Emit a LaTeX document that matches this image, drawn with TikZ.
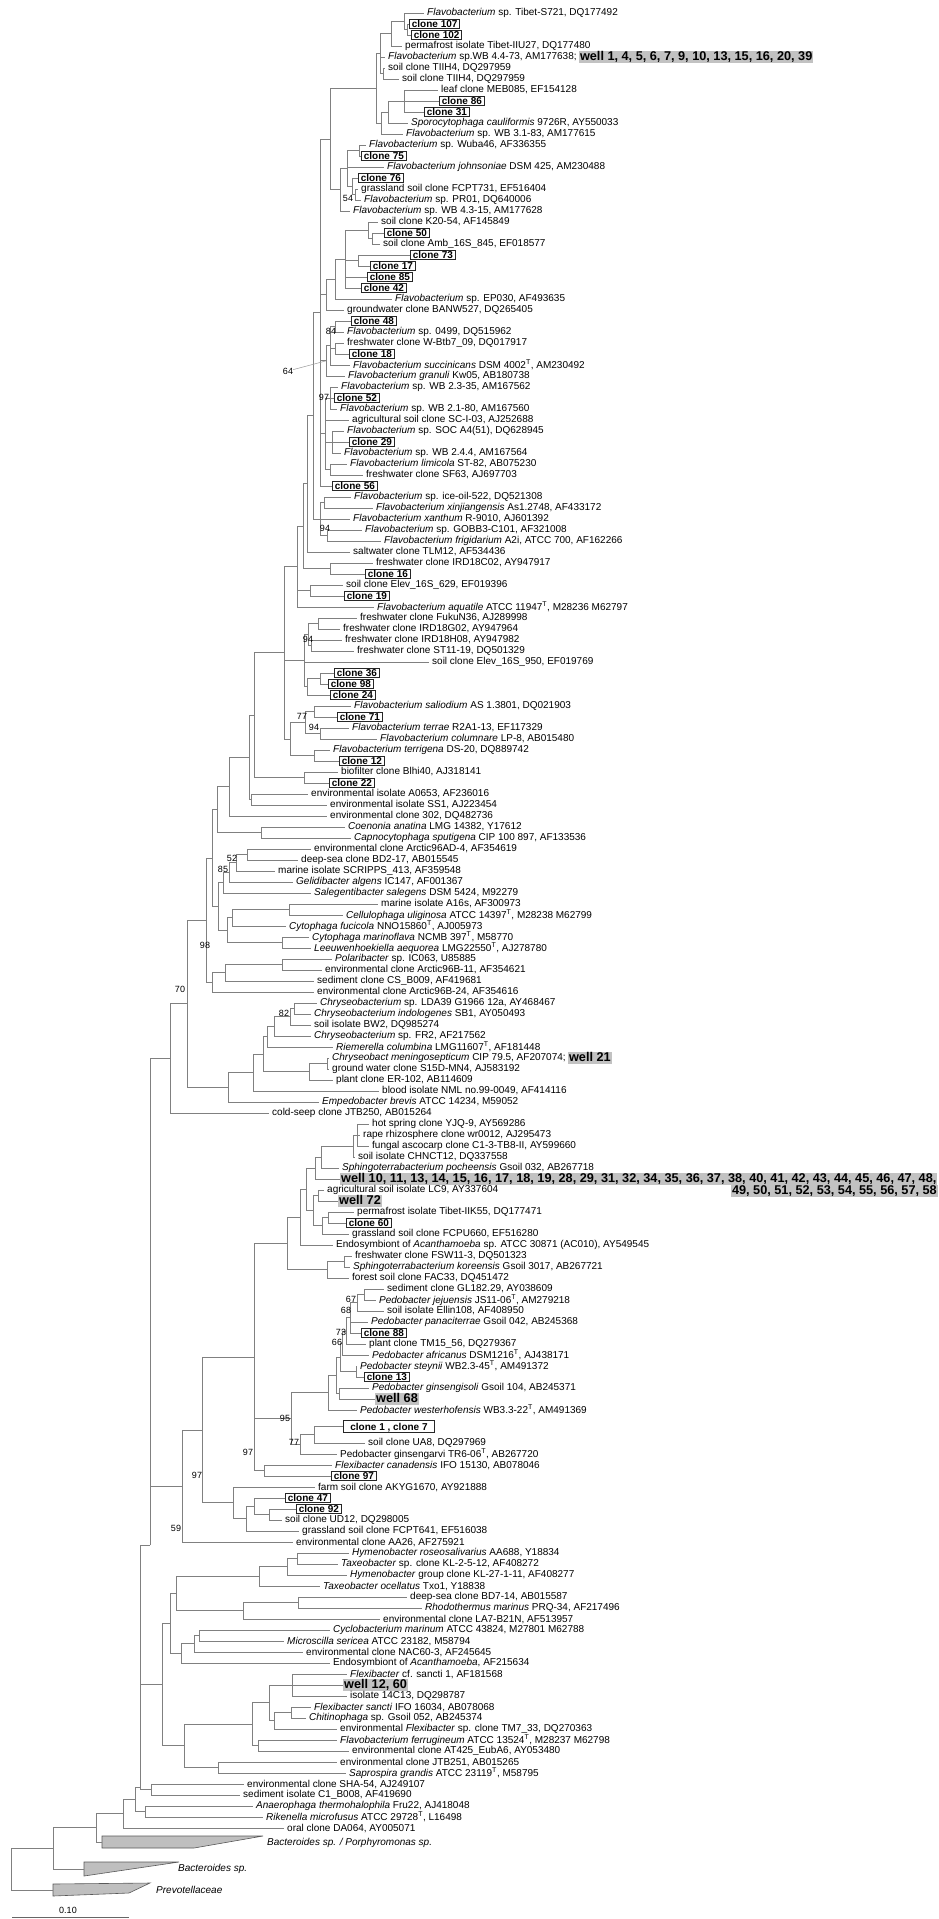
\documentclass[tikz,border=0pt]{standalone}
\usepackage{fontspec}
\setmainfont{Liberation Sans}
\usetikzlibrary{calc}
\newcommand\Ts{\textsuperscript{T}}
% leaf: [style]{row}{tip x}{text}
\newcommand\lf[4][lab]{\coordinate (t#2) at (#3,{13+11*(#2-1)});
  \node[#1] (n#2) at (t#2) {#4};}
% inner node: [y]{name}{x}{children}
\newcommand\jn[4][]{%
  \foreach \c [count=\k] in {#4}{\ifnum\k=1 \xdef\jfirst{\c}\fi\xdef\jlast{\c}}%
  \if\relax\detokenize{#1}\relax
    \path ($(\jfirst)!.5!(\jlast)$) coordinate (jy);
  \else
    \path (0,#1) coordinate (jy);
  \fi
  \path (#3,0) coordinate (jx);
  \coordinate (#2) at (jx |- jy);
  \foreach \c in {#4}{\draw[br] (#2) |- (\c);}}
\begin{document}
\begin{tikzpicture}[x=1pt, y=-1pt,
  br/.style={draw=black!50, line width=0.8pt},
  lab/.style={anchor=west, inner xsep=3pt, inner ysep=0pt, font=\fontsize{10}{11}\selectfont},
  clonebox/.style={anchor=west, draw=black!85, line width=1pt, fill=white, inner xsep=2.4pt, inner ysep=1.3pt, text height=7.2pt, text depth=0pt, font=\fontsize{10}{11}\selectfont\bfseries},
  well/.style={anchor=west, fill=black!24, inner xsep=1pt, inner ysep=0.4pt, text height=9.3pt, text depth=1.6pt, font=\fontsize{12.7}{13}\selectfont\bfseries},
  bs/.style={inner sep=0pt, font=\fontsize{9}{9}\selectfont},
  clade/.style={fill=black!25, draw=black!65, line width=0.6pt}]
\useasboundingbox (0,0) rectangle (938,1919);

% leaves
\lf{1}{424}{\textit{Flavobacterium} sp. Tibet-S721, DQ177492}
\lf[clonebox]{2}{409}{clone 107}
\lf[clonebox]{3}{411}{clone 102}
\lf{4}{402}{permafrost isolate Tibet-IIU27, DQ177480}
\lf{5}{385}{\textit{Flavobacterium} sp.WB 4.4-73, AM177638;}
\node[well] (w5) at ([xshift=-1pt]n5.east) {well 1, 4, 5, 6, 7, 9, 10, 13, 15, 16, 20, 39};
\lf{6}{385}{soil clone TIIH4, DQ297959}
\lf{7}{399}{soil clone TIIH4, DQ297959}
\lf{8}{438}{leaf clone MEB085, EF154128}
\lf[clonebox]{9}{439}{clone 86}
\lf[clonebox]{10}{424}{clone 31}
\lf{11}{408}{\textit{Sporocytophaga cauliformis} 9726R, AY550033}
\lf{12}{403}{\textit{Flavobacterium} sp. WB 3.1-83, AM177615}
\lf{13}{366}{\textit{Flavobacterium} sp. Wuba46, AF336355}
\lf[clonebox]{14}{361}{clone 75}
\lf{15}{384}{\textit{Flavobacterium johnsoniae} DSM 425, AM230488}
\lf[clonebox]{16}{358}{clone 76}
\lf{17}{358}{grassland soil clone FCPT731, EF516404}
\lf{18}{361}{\textit{Flavobacterium} sp. PR01, DQ640006}
\lf{19}{350}{\textit{Flavobacterium} sp. WB 4.3-15, AM177628}
\lf{20}{378}{soil clone K20-54, AF145849}
\lf[clonebox]{21}{384}{clone 50}
\lf{22}{380}{soil clone Amb\_16S\_845, EF018577}
\lf[clonebox]{23}{410}{clone 73}
\lf[clonebox]{24}{370}{clone 17}
\lf[clonebox]{25}{367}{clone 85}
\lf[clonebox]{26}{361}{clone 42}
\lf{27}{392}{\textit{Flavobacterium} sp. EP030, AF493635}
\lf{28}{344}{groundwater clone BANW527, DQ265405}
\lf[clonebox]{29}{351}{clone 48}
\lf{30}{344}{\textit{Flavobacterium} sp. 0499, DQ515962}
\lf{31}{344}{freshwater clone W-Btb7\_09, DQ017917}
\lf[clonebox]{32}{349}{clone 18}
\lf{33}{350}{\textit{Flavobacterium succinicans} DSM 4002\Ts, AM230492}
\lf{34}{345}{\textit{Flavobacterium granuli} Kw05, AB180738}
\lf{35}{338}{\textit{Flavobacterium} sp. WB 2.3-35, AM167562}
\lf[clonebox]{36}{334}{clone 52}
\lf{37}{337}{\textit{Flavobacterium} sp. WB 2.1-80, AM167560}
\lf{38}{349}{agricultural soil clone SC-I-03, AJ252688}
\lf{39}{344}{\textit{Flavobacterium} sp. SOC A4(51), DQ628945}
\lf[clonebox]{40}{349}{clone 29}
\lf{41}{341}{\textit{Flavobacterium} sp. WB 2.4.4, AM167564}
\lf{42}{347}{\textit{Flavobacterium limicola} ST-82, AB075230}
\lf{43}{363}{freshwater clone SF63, AJ697703}
\lf[clonebox]{44}{332}{clone 56}
\lf{45}{351}{\textit{Flavobacterium} sp. ice-oil-522, DQ521308}
\lf{46}{373}{\textit{Flavobacterium xinjiangensis} As1.2748, AF433172}
\lf{47}{350}{\textit{Flavobacterium xanthum} R-9010, AJ601392}
\lf{48}{362}{\textit{Flavobacterium} sp. GOBB3-C101, AF321008}
\lf{49}{381}{\textit{Flavobacterium frigidarium} A2i, ATCC 700, AF162266}
\lf{50}{350}{saltwater clone TLM12, AF534436}
\lf{51}{373}{freshwater clone IRD18C02, AY947917}
\lf[clonebox]{52}{365}{clone 16}
\lf{53}{343}{soil clone Elev\_16S\_629, EF019396}
\lf[clonebox]{54}{344}{clone 19}
\lf{55}{374}{\textit{Flavobacterium aquatile} ATCC 11947\Ts, M28236 M62797}
\lf{56}{357}{freshwater clone FukuN36, AJ289998}
\lf{57}{340}{freshwater clone IRD18G02, AY947964}
\lf{58}{342}{freshwater clone IRD18H08, AY947982}
\lf{59}{354}{freshwater clone ST11-19, DQ501329}
\lf{60}{429}{soil clone Elev\_16S\_950, EF019769}
\lf[clonebox]{61}{334}{clone 36}
\lf[clonebox]{62}{328}{clone 98}
\lf[clonebox]{63}{330}{clone 24}
\lf{64}{351}{\textit{Flavobacterium saliodium} AS 1.3801, DQ021903}
\lf[clonebox]{65}{337}{clone 71}
\lf{66}{349}{\textit{Flavobacterium terrae} R2A1-13, EF117329}
\lf{67}{377}{\textit{Flavobacterium columnare} LP-8, AB015480}
\lf{68}{330}{\textit{Flavobacterium terrigena} DS-20, DQ889742}
\lf[clonebox]{69}{339}{clone 12}
\lf{70}{338}{biofilter clone Blhi40, AJ318141}
\lf[clonebox]{71}{329}{clone 22}
\lf{72}{308}{environmental isolate A0653, AF236016}
\lf{73}{327}{environmental isolate SS1, AJ223454}
\lf{74}{327}{environmental clone 302, DQ482736}
\lf{75}{345}{\textit{Coenonia anatina} LMG 14382, Y17612}
\lf{76}{351}{\textit{Capnocytophaga sputigena} CIP 100 897, AF133536}
\lf{77}{311}{environmental clone Arctic96AD-4, AF354619}
\lf{78}{298}{deep-sea clone BD2-17, AB015545}
\lf{79}{275}{marine isolate SCRIPPS\_413, AF359548}
\lf{80}{293}{\textit{Gelidibacter algens} IC147, AF001367}
\lf{81}{311}{\textit{Salegentibacter salegens} DSM 5424, M92279}
\lf{82}{378}{marine isolate A16s, AF300973}
\lf{83}{343}{\textit{Cellulophaga uliginosa} ATCC 14397\Ts, M28238 M62799}
\lf{84}{286}{\textit{Cytophaga fucicola} NNO15860\Ts, AJ005973}
\lf{85}{309}{\textit{Cytophaga marinoflava} NCMB 397\Ts, M58770}
\lf{86}{311}{\textit{Leeuwenhoekiella aequorea} LMG22550\Ts, AJ278780}
\lf{87}{332}{\textit{Polaribacter} sp. IC063, U85885}
\lf{88}{322}{environmental clone Arctic96B-11, AF354621}
\lf{89}{314}{sediment clone CS\_B009, AF419681}
\lf{90}{314}{environmental clone Arctic96B-24, AF354616}
\lf{91}{317}{\textit{Chryseobacterium} sp. LDA39 G1966 12a, AY468467}
\lf{92}{311}{\textit{Chryseobacterium indologenes} SB1, AY050493}
\lf{93}{311}{soil isolate BW2, DQ985274}
\lf{94}{311}{\textit{Chryseobacterium} sp. FR2, AF217562}
\lf{95}{333}{\textit{Riemerella columbina} LMG11607\Ts, AF181448}
\lf{96}{329}{\textit{Chryseobact meningosepticum} CIP 79.5, AF207074;}
\node[well] (w96) at ([xshift=-1pt]n96.east) {well 21};
\lf{97}{329}{ground water clone S15D-MN4, AJ583192}
\lf{98}{333}{plant clone ER-102, AB114609}
\lf{99}{379}{blood isolate NML no.99-0049, AF414116}
\lf{100}{319}{\textit{Empedobacter brevis} ATCC 14234, M59052}
\lf{101}{269}{cold-seep clone JTB250, AB015264}
\lf{102}{369}{hot spring clone YJQ-9, AY569286}
\lf{103}{360}{rape rhizosphere clone wr0012, AJ295473}
\lf{104}{369}{fungal ascocarp clone C1-3-TB8-II, AY599660}
\lf{105}{355}{soil isolate CHNCT12, DQ337558}
\lf{106}{339}{\textit{Sphingoterrabacterium pocheensis} Gsoil 032, AB267718}
\lf[well]{107}{340}{well 10, 11, 13, 14, 15, 16, 17, 18, 19, 28, 29, 31, 32, 34, 35, 36, 37, 38, 40, 41, 42, 43, 44, 45, 46, 47, 48,}
\node[well, anchor=east] (n107b) at (938,1191) {49, 50, 51, 52, 53, 54, 55, 56, 57, 58};
\lf{108}{324}{agricultural soil isolate LC9, AY337604}
\lf[well]{109}{338}{well 72}
\lf{110}{354}{permafrost isolate Tibet-IIK55, DQ177471}
\lf[clonebox]{111}{346}{clone 60}
\lf{112}{349}{grassland soil clone FCPU660, EF516280}
\lf{113}{333}{Endosymbiont of \textit{Acanthamoeba} sp. ATCC 30871 (AC010), AY549545}
\lf{114}{352}{freshwater clone FSW11-3, DQ501323}
\lf{115}{350}{\textit{Sphingoterrabacterium koreensis} Gsoil 3017, AB267721}
\lf{116}{349}{forest soil clone FAC33, DQ451472}
\lf{117}{384}{sediment clone GL182.29, AY038609}
\lf{118}{376}{\textit{Pedobacter jejuensis} JS11-06\Ts, AM279218}
\lf{119}{384}{soil isolate Ellin108, AF408950}
\lf{120}{368}{\textit{Pedobacter panaciterrae} Gsoil 042, AB245368}
\lf[clonebox]{121}{361}{clone 88}
\lf{122}{366}{plant clone TM15\_56, DQ279367}
\lf{123}{369}{\textit{Pedobacter africanus} DSM1216\Ts, AJ438171}
\lf{124}{357}{\textit{Pedobacter steynii} WB2.3-45\Ts, AM491372}
\lf[clonebox]{125}{364}{clone 13}
\lf{126}{369}{\textit{Pedobacter ginsengisoli} Gsoil 104, AB245371}
\lf[well]{127}{375}{well 68}
\lf{128}{357}{\textit{Pedobacter westerhofensis} WB3.3-22\Ts, AM491369}
\coordinate (t129) at (343,1426.5);
\node[clonebox, minimum width=91pt, inner ysep=2.5pt] (n129) at (t129) {clone 1 , clone 7};
\lf{131}{365}{soil clone UA8, DQ297969}
\lf{132}{337}{Pedobacter ginsengarvi TR6-06\Ts, AB267720}
\lf{133}{332}{\textit{Flexibacter canadensis} IFO 15130, AB078046}
\lf[clonebox]{134}{331}{clone 97}
\lf{135}{315}{farm soil clone AKYG1670, AY921888}
\lf[clonebox]{136}{285}{clone 47}
\lf[clonebox]{137}{296}{clone 92}
\lf{138}{282}{soil clone UD12, DQ298005}
\lf{139}{299}{grassland soil clone FCPT641, EF516038}
\lf{140}{293}{environmental clone AA26, AF275921}
\lf{141}{349}{\textit{Hymenobacter roseosalivarius} AA688, Y18834}
\lf{142}{338}{\textit{Taxeobacter} sp. clone KL-2-5-12, AF408272}
\lf{143}{347}{\textit{Hymenobacter} group clone KL-27-1-11, AF408277}
\lf{144}{320}{\textit{Taxeobacter ocellatus} Txo1, Y18838}
\lf{145}{407}{deep-sea clone BD7-14, AB015587}
\lf{146}{422}{\textit{Rhodothermus marinus} PRQ-34, AF217496}
\lf{147}{380}{environmental clone LA7-B21N, AF513957}
\lf{148}{330}{\textit{Cyclobacterium marinum} ATCC 43824, M27801 M62788}
\lf{149}{284}{\textit{Microscilla sericea} ATCC 23182, M58794}
\lf{150}{303}{environmental clone NAC60-3, AF245645}
\lf{151}{330}{Endosymbiont of \textit{Acanthamoeba}, AF215634}
\lf{152}{347}{\textit{Flexibacter} cf. sancti 1, AF181568}
\lf[well]{153}{343}{well 12, 60}
\lf{154}{347}{isolate 14C13, DQ298787}
\lf{155}{311}{\textit{Flexibacter sancti} IFO 16034, AB078068}
\lf{156}{306}{\textit{Chitinophaga} sp. Gsoil 052, AB245374}
\lf{157}{337}{environmental \textit{Flexibacter} sp. clone TM7\_33, DQ270363}
\lf{158}{337}{\textit{Flavobacterium ferrugineum} ATCC 13524\Ts, M28237 M62798}
\lf{159}{349}{environmental clone AT425\_EubA6, AY053480}
\lf{160}{337}{environmental clone JTB251, AB015265}
\lf{161}{346}{\textit{Saprospira grandis} ATCC 23119\Ts, M58795}
\lf{162}{244}{environmental clone SHA-54, AJ249107}
\lf{163}{240}{sediment isolate C1\_B008, AF419690}
\lf{164}{253}{\textit{Anaerophaga thermohalophila} Fru22, AJ418048}
\lf{165}{263}{\textit{Rikenella microfusus} ATCC 29728\Ts, L16498}
\lf{166}{284}{oral clone DA064, AY005071}

% collapsed clades
\fill[clade] (102,1836) -- (263,1836) -- (194,1848) -- (102,1848) -- cycle;
\fill[clade] (84,1862) -- (179,1862) -- (84,1876) -- cycle;
\fill[clade] (53,1884) -- (150,1883) -- (129,1893) -- (53,1896) -- cycle;
\coordinate (bx1) at (102,1842);
\coordinate (bx2) at (84,1869);
\coordinate (bx3) at (53,1890);
\node[lab] (nbx1) at (264,1843) {\textit{Bacteroides sp. / Porphyromonas sp.}};
\node[lab] (nbx2) at (175,1869) {\textit{Bacteroides sp.}};
\node[lab] (nbx3) at (153,1890) {\textit{Prevotellaceae}};

% Flavobacterium
\jn{a1}{407}{t2,t3}
\jn{a2}{404}{t1,a1}
\jn{a3}{391}{a2,t4}
\jn{a4}{383}{t6,t7}
\jn{a5}{380}{a3,t5,a4}
\jn{a7}{404}{t8,t9,t10}
\jn{a8}{388}{a7,t11}
\jn{a9}{381}{a8,t12}
\jn{a10}{376}{a5,a9}
\jn{b1}{359}{t13,t14}
\jn{b2}{355}{t17,t18}
\jn{b3}{352}{t16,b2}
\jn{b4}{347}{b1,t15,b3}
\jn{b5}{340}{b4,t19}
\jn{b6}{330}{a10,b5}
\jn{c1}{372}{t21,t22}
\jn{c2}{368}{t20,c1}
\jn{c3}{358}{t23,t24}
\jn{c4}{345}{c2,c3,t25,t26}
\jn{c5}{335}{c4,t27}
\jn{c6}{326}{c5,t28}
\jn{d1}{335}{t29,t30}
\jn{d2}{335}{t31,t32}
\jn{d3}{330}{d1,d2,t33}
\jn{d4}{326}{d3,t34}
\jn{e1}{330}{t35,t36,t37}
\jn{e2}{332}{t39,t40,t41}
\jn{e3}{330}{t42,t43}
\jn{e4}{325}{e1,t38,e2,e3}
\jn{f1}{320}{b6,c6,d4,e4,t44}
\jn{g1}{324}{t45,t46}
\jn{g2}{327}{t48,t49}
\jn{g3}{320}{g1,t47,g2}
\jn{f2}{313}{f1,g3}
\jn{f3}{307}{f2,t50}
\jn{g4}{330}{t51,t52}
\jn{f4}{303}{f3,g4}
\jn{g5}{310}{t53,t54}
\jn{f5}{297}{f4,g5,t55}
\jn{h1}{318}{t56,t57}
\jn{h2}{311}{t58,t59}
\jn{h3}{308}{h1,h2}
\jn{h5}{320}{t61,t62}
\jn{h6}{307}{h5,t63}
\jn{h4}{304}{h3,t60,h6}
\jn{i1}{314}{t64,t65}
\jn{i2}{320}{t66,t67}
\jn{i3}{305}{i1,i2}
\jn{i4}{314}{t68,t69}
\jn{i5}{290}{i3,i4}
\jn{f6}{284}{f5,h4,i5}
\jn{i6}{304}{t70,t71}
\jn{f7}{254}{f6,i6}
\jn{j1}{251}{t72,t73}
\jn{f8}{249}{f7,j1}
\jn{j2}{229}{f8,t74}
\jn{j3}{261}{t75,t76}
\jn{j4}{217}{j2,j3}
\jn{k1}{247}{t77,t78}
\jn{k2}{236}{k1,t79}
\jn{k3}{229}{k2,t80}
\jn{k4}{223}{k3,t81}
\jn{k5}{289}{t82,t83}
\jn{k6}{232}{k5,t84}
\jn{k7}{282}{t85,t86}
\jn{k8}{227}{k6,k7}
\jn{k9}{218}{k4,k8}
\jn{j5}{212}{j4,k9}
\jn{m1}{282}{t87,t88}
\jn{m2}{225}{m1,t89}
\jn{m3}{212}{m2,t90}
\jn{n98}{206}{j5,m3}
% Chryseobacterium
\jn{p1}{294}{t91,t92}
\jn{p2}{290}{p1,t93}
\jn{p3}{274}{p2,t94}
\jn{p4}{267}{p3,t95}
\jn{p5}{327}{t96,t97}
\jn{p6}{309}{p5,t98}
\jn{p7}{263}{p4,p6}
\jn{p8}{253}{p7,t99}
\jn{p9}{228}{p8,t100}
\jn{n70}{187}{n98,p9}
\jn{n1}{170}{n70,t101}
% Sphingobacteria
\jn{q1}{357}{t102,t103,t104}
\jn{q2}{353}{q1,t105}
\jn{q3}{321}{q2,t106}
\jn{q4}{315}{q3,t107}
\jn{q5}{318}{t108,t109}
\jn{q6}{328}{t110,t111}
\jn{q7}{322}{q6,t112}
\jn{q8}{313}{q5,q7}
\jn{q9}{306}{q4,q8}
\jn{q10}{300}{q9,t113}
\jn{q11}{344}{t114,t115}
\jn{q12}{327}{q11,t116}
\jn{q13}{287}{q10,q12}
\jn{r1}{364}{t117,t118}
\jn{r2}{357}{r1,t119}
\jn{r3}{350}{r2,t120,t121}
\jn{r4}{346}{r3,t122}
\jn{r5}{342}{r4,t123}
\jn{r6}{356}{t124,t125}
\jn{r7}{340}{r5,r6}
\jn{r8}{339}{t126,t127}
\jn{r9}{336}{r7,r8}
\jn{r10}{328}{r9,t128}
\jn{r11}{314}{t129,t131}
\jn{r12}{300}{r11,t132}
\jn{r13}{291}{r10,r12}
\jn{r14}{264}{t133,t134}
\jn{r15}{254}{q13,r13,r14}
\jn{s1}{269}{t137,t138}
\jn{s2}{254}{t136,s1}
\jn{s3}{246}{s2,t139}
\jn{s4}{233}{t135,s3}
\jn{n97}{202}{r15,s4}
\jn{n59}{182}{n97,t140}
\jn[1545]{m150}{150}{n1,n59}
% Cytophagales and others
\jn{u1}{297}{t141,t142}
\jn{u2}{287}{u1,t143}
\jn{u3}{259}{u2,t144}
\jn{u4}{298}{t145,t146}
\jn{u5}{243}{u4,t147}
\jn{u6}{176}{u3,u5}
\jn{u7}{199}{t148,t149}
\jn{u8}{194}{u7,t150}
\jn{u9}{181}{u8,t151}
\jn{u10}{170}{u6,u9}
\jn{v1}{292}{t152,t153,t154}
\jn{v2}{291}{t155,t156}
\jn{v3}{274}{v2,t157}
\jn{v4}{269}{v1,v3}
\jn{v5}{258}{t158,t159}
\jn{v6}{252}{v4,v5}
\jn{v7}{218}{t160,t161}
\jn{v8}{184}{v6,v7}
\jn{u11}{162}{u10,v8}
\jn{w1}{151}{t162,t163}
\jn[1787]{m140}{140}{m150,u11,w1}
\jn{w2}{145}{t164,t165}
\jn{w3}{135}{m140,w2}
\jn{w4}{123}{w3,t166}
\jn{w5}{96}{w4,bx1}
\jn{w6}{53}{w5,bx2}
\jn{root}{11}{w6,bx3}

% bootstrap values
\node[bs] (bs64) at (288,371) {64};
\draw[black!40, line width=0.5pt] (bs64) -- (d4);
\foreach \v/\px/\py in {54/348/198, 84/331/331, 97/324/397, 94/325/528, 94/308/639,
  77/302/716, 94/314/727, 52/232/858, 85/223/869, 98/205/945, 70/180/989, 82/284/1013,
  67/351/1299, 68/346/1310, 73/341/1332, 66/337/1342, 95/285/1418, 77/294/1442,
  97/248/1452, 97/197/1475, 59/176/1528}
  \node[bs] at (\px,\py) {\v};

% scale bar
\coordinate (sb1) at (12,1917);
\coordinate (sb2) at (129,1917);
\draw[black!60, line width=0.8pt] (sb1) -- (sb2);
\node[bs] (sbl) at (68,1910) {0.10};
\end{tikzpicture}
\end{document}
